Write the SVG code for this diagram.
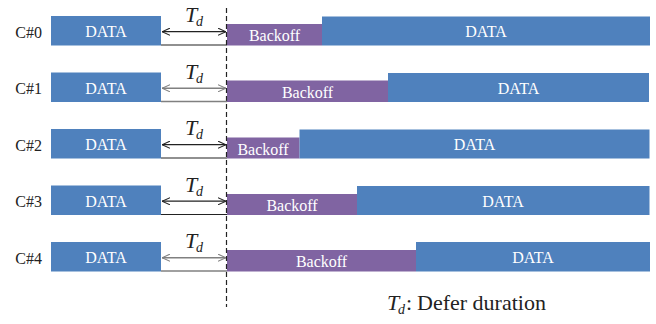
<svg xmlns="http://www.w3.org/2000/svg" width="656" height="324" viewBox="0 0 656 324">
<defs>
<style>
.data{fill:#4F81BD}
.bo{fill:#8064A2}
.wt{fill:#FFFFFF;font-family:'Liberation Serif','Times New Roman','DejaVu Serif',serif;font-size:16px;text-anchor:middle}
.lbl{fill:#222;font-family:'Liberation Serif','Times New Roman','DejaVu Serif',serif;font-size:16px;text-anchor:end}
.td{fill:#222;font-family:'Liberation Serif','Times New Roman','DejaVu Serif',serif;font-style:italic}
.leg{fill:#222;font-family:'Liberation Serif','Times New Roman','DejaVu Serif',serif;font-size:22px}
.arr{stroke:#222;stroke-width:1.2;fill:none}
.arrg{stroke:#808080;stroke-width:1.5;fill:none}
</style>
<marker id="ah" viewBox="0 0 10 10" refX="10" refY="5" markerWidth="8" markerHeight="8" orient="auto-start-reverse" markerUnits="userSpaceOnUse">
<path d="M0,0.5 L10,5 L0,9.5" fill="none" stroke="context-stroke" stroke-width="1.3"/>
</marker>
</defs>
<rect width="656" height="324" fill="#FFFFFF"/>

<g id="row0">
<text class="lbl" x="42" y="37.5">C#0</text>
<rect class="data" x="51" y="16" width="110" height="29.5"/>
<text class="wt" x="106" y="37">DATA</text>
<rect class="bo" x="227" y="24" width="95" height="21.5"/>
<text class="wt" x="274.5" y="41">Backoff</text>
<rect class="data" x="322" y="16.5" width="328" height="29"/>
<text class="wt" x="486" y="37">DATA</text>
<text class="td" x="185" y="22" font-size="22">T</text>
<text class="td" x="196" y="26" font-size="14">d</text>
</g>

<g id="row1">
<text class="lbl" x="42" y="94">C#1</text>
<rect class="data" x="51" y="72.5" width="110" height="29.5"/>
<text class="wt" x="106" y="93.5">DATA</text>
<rect class="bo" x="227" y="80.5" width="161" height="21.5"/>
<text class="wt" x="307.5" y="97.5">Backoff</text>
<rect class="data" x="388" y="73" width="261" height="29"/>
<text class="wt" x="518.5" y="93.5">DATA</text>
<text class="td" x="185" y="78.5" font-size="22">T</text>
<text class="td" x="196" y="82.5" font-size="14">d</text>
</g>

<g id="row2">
<text class="lbl" x="42" y="150.5">C#2</text>
<rect class="data" x="51" y="129" width="110" height="29.5"/>
<text class="wt" x="106" y="150">DATA</text>
<rect class="bo" x="227" y="137.5" width="72.5" height="21"/>
<text class="wt" x="263" y="154.5">Backoff</text>
<rect class="data" x="299.5" y="129.5" width="350" height="29"/>
<text class="wt" x="474.5" y="150">DATA</text>
<text class="td" x="185" y="135" font-size="22">T</text>
<text class="td" x="196" y="139" font-size="14">d</text>
</g>

<g id="row3">
<text class="lbl" x="42" y="207">C#3</text>
<rect class="data" x="51" y="185.5" width="110" height="29.5"/>
<text class="wt" x="106" y="206.5">DATA</text>
<rect class="bo" x="227" y="194" width="130" height="21"/>
<text class="wt" x="292" y="211">Backoff</text>
<rect class="data" x="357" y="186" width="292.5" height="29"/>
<text class="wt" x="503" y="206.5">DATA</text>
<text class="td" x="185" y="191.5" font-size="22">T</text>
<text class="td" x="196" y="195.5" font-size="14">d</text>
</g>

<g id="row4">
<text class="lbl" x="42" y="263.5">C#4</text>
<rect class="data" x="51" y="242" width="110" height="29.5"/>
<text class="wt" x="106" y="263">DATA</text>
<rect class="bo" x="227" y="250" width="189" height="21.5"/>
<text class="wt" x="321.5" y="267">Backoff</text>
<rect class="data" x="416" y="242" width="234" height="29.5"/>
<text class="wt" x="533" y="263">DATA</text>
<text class="td" x="185" y="248" font-size="22">T</text>
<text class="td" x="196" y="252" font-size="14">d</text>
</g>

<g id="connectors">
<line x1="226.5" y1="8" x2="226.5" y2="307" stroke="#222" stroke-width="1.2" stroke-dasharray="5,3"/>
<line class="arr" x1="162" y1="31.7" x2="226" y2="31.7" marker-start="url(#ah)" marker-end="url(#ah)"/>
<line class="arr" x1="161" y1="45" x2="227" y2="45"/>
<line class="arrg" x1="162" y1="88.2" x2="226" y2="88.2" marker-start="url(#ah)" marker-end="url(#ah)"/>
<line class="arrg" x1="161" y1="101.5" x2="227" y2="101.5"/>
<line class="arr" x1="162" y1="144.7" x2="226" y2="144.7" marker-start="url(#ah)" marker-end="url(#ah)"/>
<line class="arr" x1="161" y1="158" x2="227" y2="158"/>
<line class="arr" x1="162" y1="201.2" x2="226" y2="201.2" marker-start="url(#ah)" marker-end="url(#ah)"/>
<line class="arr" x1="161" y1="214.5" x2="227" y2="214.5"/>
<line class="arrg" x1="162" y1="257.7" x2="226" y2="257.7" marker-start="url(#ah)" marker-end="url(#ah)"/>
<line class="arrg" x1="161" y1="271" x2="227" y2="271"/>
</g>

<g id="legend">
<text class="td" x="387" y="310" font-size="22">T</text>
<text class="td" x="398" y="314" font-size="14">d</text>
<text class="leg" x="406" y="310">:</text>
<text class="leg" x="417" y="310">Defer duration</text>
</g>
</svg>
